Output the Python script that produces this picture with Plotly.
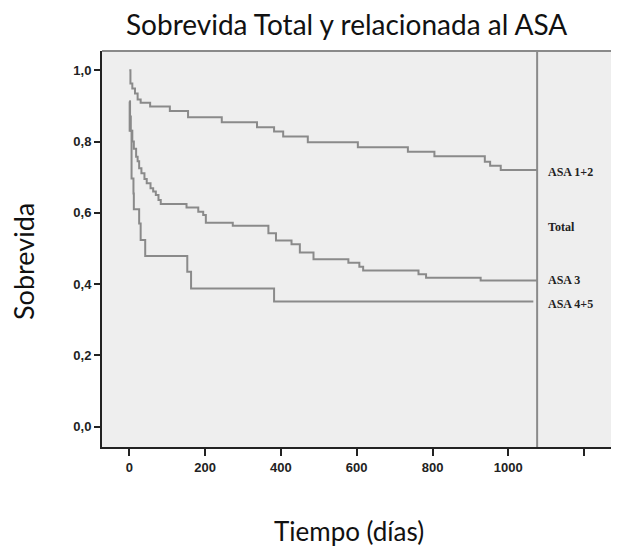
import plotly.graph_objects as go

# ---------------- data ----------------
asa12_days = [0, 3, 8, 15, 22, 30, 55, 107, 155, 244, 337, 382, 406, 471, 603, 735, 805, 938, 952, 980, 1076]
asa12_surv = [1.0, 0.963, 0.949, 0.935, 0.918, 0.909, 0.898, 0.886, 0.868, 0.854, 0.840, 0.828, 0.814,
              0.798, 0.784, 0.771, 0.759, 0.743, 0.732, 0.720, 0.720]

asa3_days = [0, 2, 4, 8, 12, 18, 22, 26, 32, 40, 46, 56, 63, 70, 77, 83, 151, 182, 195, 202, 273,
             367, 387, 428, 450, 486, 578, 607, 617, 763, 783, 927, 1076]
asa3_surv = [0.912, 0.87, 0.83, 0.80, 0.78, 0.757, 0.745, 0.725, 0.711, 0.695, 0.683, 0.669, 0.66,
             0.650, 0.636, 0.625, 0.615, 0.603, 0.594, 0.572, 0.564, 0.543, 0.522, 0.512, 0.489,
             0.470, 0.460, 0.449, 0.438, 0.428, 0.418, 0.410, 0.410]

asa45_days = [0, 1, 6, 11, 12, 26, 30, 42, 153, 163, 382, 1066]
asa45_surv = [0.912, 0.83, 0.696, 0.654, 0.610, 0.570, 0.524, 0.479, 0.435, 0.388, 0.351, 0.351]

end_day = 1076

curve_labels = ["ASA 1+2", "Total", "ASA 3", "ASA 4+5"]
curve_label_y = [0.714, 0.561, 0.411, 0.345]

x_tickvals = [0, 200, 400, 600, 800, 1000, 1200]
x_ticktext = ["0", "200", "400", "600", "800", "1000", ""]
y_tickvals = [0.0, 0.2, 0.4, 0.6, 0.8, 1.0]
y_ticktext = ["0,0", "0,2", "0,4", "0,6", "0,8", "1,0"]

# ---------------- figure ----------------
# the page body has an 8 px margin, so the figure is drawn 8 px right/down
OFF = 8
W, H = 619 - OFF, 548 - OFF
ML, MR, MT, MB = 102 - OFF, 0, 51 - OFF, 548 - 447
PW, PH = W - ML - MR, H - MT - MB


def px_to_paper(px, py):
    """Screen pixel (of the 619x548 page) -> paper coordinates."""
    return (px - OFF - ML) / PW, (H - MB - (py - OFF)) / PH


line_col = "#8a8a8a"
fig = go.Figure()
for d, s in [(asa12_days, asa12_surv), (asa3_days, asa3_surv), (asa45_days, asa45_surv)]:
    fig.add_trace(go.Scatter(x=d, y=s, mode="lines", line=dict(shape="hv", color=line_col, width=2),
                             showlegend=False, hoverinfo="skip"))

for txt, yv in zip(curve_labels, curve_label_y):
    fig.add_annotation(x=1099, y=yv, text=txt, showarrow=False, xanchor="left", yanchor="middle",
                       font=dict(family="Liberation Serif", size=12, color="#222", weight="bold"))

fig.add_shape(type="line", x0=end_day, x1=end_day, y0=0, y1=1, xref="x", yref="paper",
              line=dict(color="#8a8a8a", width=2))
fig.add_shape(type="line", x0=0, x1=1, y0=1, y1=1, xref="paper", yref="paper",
              line=dict(color="#8a8a8a", width=2))

title_font = dict(family="Lato", size=27, color="#111")
tx, ty = px_to_paper(346, 24)
fig.add_annotation(x=tx, y=ty, xref="paper", yref="paper", text="Sobrevida Total y relacionada al ASA",
                   showarrow=False, xanchor="center", yanchor="middle",
                   font=dict(family="Lato", size=28, color="#111"))
tx, ty = px_to_paper(349, 531)
fig.add_annotation(x=tx, y=ty, xref="paper", yref="paper", text="Tiempo (días)",
                   showarrow=False, xanchor="center", yanchor="middle", borderpad=0,
                   font=dict(family="Lato", size=26, color="#111"))
tx, ty = px_to_paper(23, 262)
fig.add_annotation(x=tx, y=ty, xref="paper", yref="paper", text="Sobrevida", textangle=-90,
                   showarrow=False, xanchor="center", yanchor="middle", font=title_font)

tickfont = dict(family="Liberation Sans", size=13, color="#222", weight="bold")
fig.update_layout(
    width=W, height=H,
    margin=dict(l=ML, r=MR, t=MT, b=MB),
    paper_bgcolor="white", plot_bgcolor="#eeeeee",
    xaxis=dict(range=[-72, 1292], tickvals=x_tickvals, ticktext=x_ticktext, showgrid=False, zeroline=False,
               showline=True, linecolor="#222", linewidth=2, ticks="outside", ticklen=7, tickwidth=2,
               tickcolor="#222", tickfont=tickfont, automargin=False),
    yaxis=dict(range=[-0.057, 1.054], tickvals=y_tickvals, ticktext=y_ticktext, showgrid=False,
               zeroline=False, showline=True, linecolor="#222", linewidth=2, ticks="outside", ticklen=6,
               tickwidth=2, tickcolor="#222", tickfont=tickfont, automargin=False),
)
fig.write_html("out.html")
